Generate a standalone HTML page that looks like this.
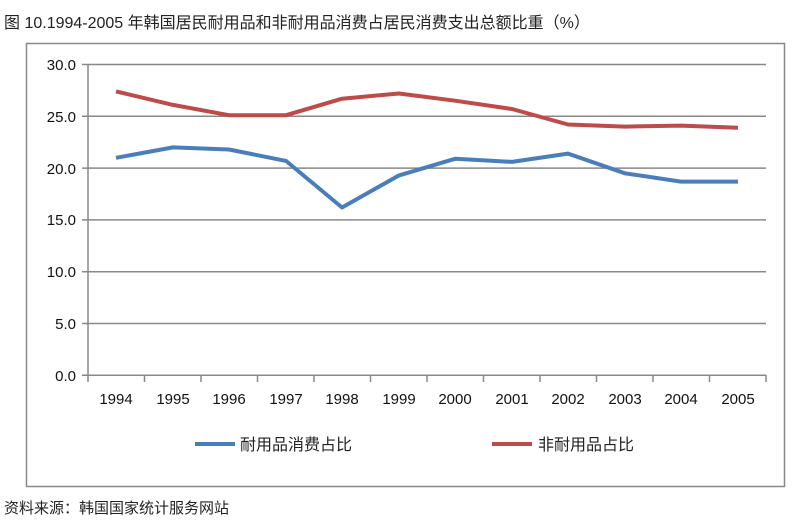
<!DOCTYPE html><html><head><meta charset="utf-8"><style>body{margin:0;background:#fff}svg{display:block}text{font-family:"Liberation Sans","Noto Sans CJK SC",sans-serif}</style></head><body>
<svg width="800" height="529" xmlns="http://www.w3.org/2000/svg">
<text x="4" y="28" font-size="16" fill="#222">图 10.1994-2005 年韩国居民耐用品和非耐用品消费占居民消费支出总额比重（%）</text>
<rect x="26.5" y="43.5" width="758" height="443" fill="none" stroke="#888" stroke-width="1.5"/>
<g stroke="#888" stroke-width="1.5">
<line x1="82" y1="64.5" x2="766" y2="64.5"/><line x1="82" y1="116.3" x2="766" y2="116.3"/><line x1="82" y1="168.1" x2="766" y2="168.1"/><line x1="82" y1="219.9" x2="766" y2="219.9"/><line x1="82" y1="271.7" x2="766" y2="271.7"/><line x1="82" y1="323.5" x2="766" y2="323.5"/><line x1="82" y1="375.3" x2="766" y2="375.3"/>
<line x1="88" y1="64" x2="88" y2="376"/>
<g id="t"></g>
</g>
<g stroke="#888" stroke-width="1.5">
<line x1="88" y1="375" x2="88" y2="382"/><line x1="144.5" y1="375" x2="144.5" y2="382"/><line x1="201" y1="375" x2="201" y2="382"/><line x1="257.5" y1="375" x2="257.5" y2="382"/><line x1="314" y1="375" x2="314" y2="382"/><line x1="370.5" y1="375" x2="370.5" y2="382"/><line x1="427" y1="375" x2="427" y2="382"/><line x1="483.5" y1="375" x2="483.5" y2="382"/><line x1="540" y1="375" x2="540" y2="382"/><line x1="596.5" y1="375" x2="596.5" y2="382"/><line x1="653" y1="375" x2="653" y2="382"/><line x1="709.5" y1="375" x2="709.5" y2="382"/><line x1="766" y1="375" x2="766" y2="382"/>
</g>
<g font-size="15" fill="#111" text-anchor="end">
<text x="76" y="70">30.0</text><text x="76" y="122">25.0</text><text x="76" y="174">20.0</text><text x="76" y="225">15.0</text><text x="76" y="277">10.0</text><text x="76" y="329">5.0</text><text x="76" y="381">0.0</text>
</g>
<g font-size="15" fill="#111" text-anchor="middle">
<text x="116" y="404">1994</text><text x="173" y="404">1995</text><text x="229" y="404">1996</text><text x="286" y="404">1997</text><text x="342" y="404">1998</text><text x="399" y="404">1999</text><text x="455" y="404">2000</text><text x="512" y="404">2001</text><text x="568" y="404">2002</text><text x="625" y="404">2003</text><text x="681" y="404">2004</text><text x="738" y="404">2005</text>
</g>
<polyline fill="none" stroke="#4a7ebb" stroke-width="4" stroke-linejoin="round" points="116,157.8 173,147.4 229,149.5 286,160.9 342,207.5 399,175.4 455,158.8 512,161.9 568,153.6 625,173.3 681,181.6 738,181.6"/>
<polyline fill="none" stroke="#be4b48" stroke-width="4" stroke-linejoin="round" points="116,91.4 173,104.9 229,115.2 286,115.2 342,98.7 399,93.5 455,100.7 512,109 568,124.5 625,126.6 681,125.6 738,127.7"/>
<line x1="195" y1="444" x2="235" y2="444" stroke="#4a7ebb" stroke-width="4"/>
<text x="240" y="450" font-size="16" fill="#222">耐用品消费占比</text>
<line x1="492" y1="444" x2="532" y2="444" stroke="#be4b48" stroke-width="4"/>
<text x="538" y="450" font-size="16" fill="#222">非耐用品占比</text>
<text x="4" y="513" font-size="15" fill="#222">资料来源：韩国国家统计服务网站</text>
</svg></body></html>
